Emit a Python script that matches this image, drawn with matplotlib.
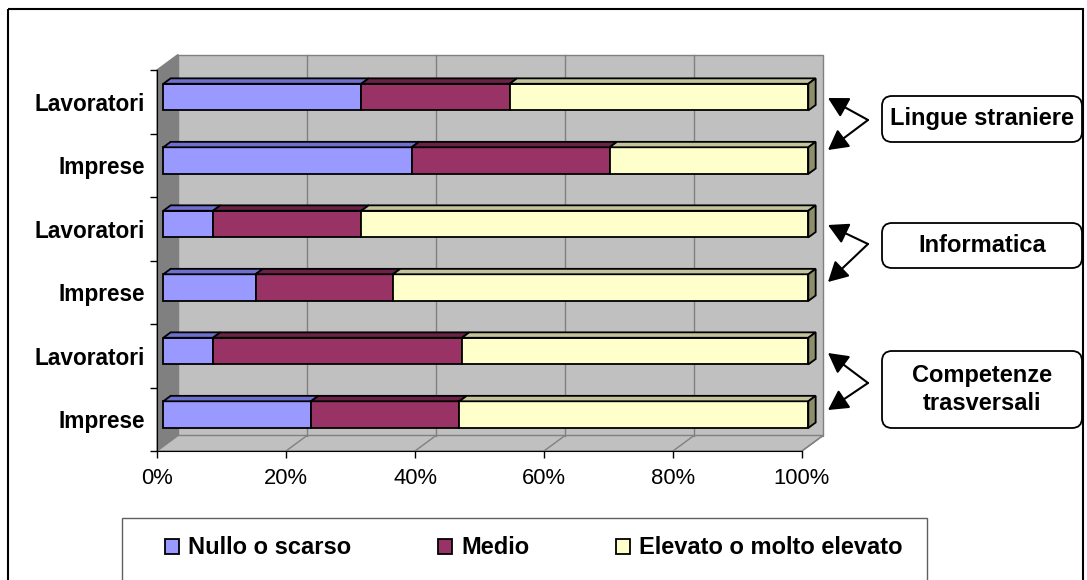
import matplotlib.pyplot as plt
from matplotlib.patches import Polygon, Rectangle, FancyBboxPatch

plt.rcParams['font.family'] = ['Liberation Sans', 'DejaVu Sans']

# categories bottom to top
categories = ['Imprese', 'Lavoratori', 'Imprese', 'Lavoratori', 'Imprese', 'Lavoratori']
series_names = ['Nullo o scarso', 'Medio', 'Elevato o molto elevato']
nullo = [22.9, 7.7, 14.3, 7.7, 38.5, 30.7]
medio = [23.0, 38.6, 21.3, 23.0, 30.7, 23.0]
elevato = [54.1, 53.7, 64.4, 69.3, 30.8, 46.3]
x_ticks = [0, 20, 40, 60, 80, 100]
x_labels = ['0%', '20%', '40%', '60%', '80%', '100%']
groups = ['Lingue straniere', 'Informatica', 'Competenze\ntrasversali']

front_colors = ['#9999FF', '#993366', '#FFFFCC']
top_colors = ['#6F6FCF', '#6A2247', '#C4C49C']
cap_color = '#8E8E6A'

W, H = 1087, 580
fig = plt.figure(figsize=(W / 100, H / 100), dpi=100)
ax = fig.add_axes([157 / W, 1 - 451 / H, 645 / W, 381 / H])
ax.set_xlim(0, 100)
ax.set_ylim(-0.5, 5.5)
ax.patch.set_visible(False)

# 3d depth offsets in data units
DX, DY = 3.26, 0.244
FRONT, DEPTH = 0.3, 0.35
fx, fy = FRONT * DX, FRONT * DY
ddx, ddy = DEPTH * DX, DEPTH * DY
bar_h = 0.42
n = len(categories)
ys = list(range(n))

# walls
ax.add_patch(Polygon([(0, -0.5), (DX, -0.5 + DY), (DX, n - 0.5 + DY), (0, n - 0.5)],
                     fc='#808080', ec='#808080', lw=1, clip_on=False, zorder=0))
ax.add_patch(Polygon([(DX, -0.5 + DY), (100 + DX, -0.5 + DY), (100 + DX, n - 0.5 + DY), (DX, n - 0.5 + DY)],
                     fc='#C0C0C0', ec='#808080', lw=1, clip_on=False, zorder=0))
ax.add_patch(Polygon([(0, -0.5), (100, -0.5), (100 + DX, -0.5 + DY), (DX, -0.5 + DY)],
                     fc='#C0C0C0', ec='#808080', lw=1, clip_on=False, zorder=0))
for t in x_ticks[1:-1]:
    ax.plot([t + DX, t + DX], [-0.5 + DY, n - 0.5 + DY], color='#808080', lw=1, clip_on=False, zorder=0.5)
for t in x_ticks[1:]:
    ax.plot([t, t + DX], [-0.5, -0.5 + DY], color='#808080', lw=1, clip_on=False, zorder=0.5)

# bars
lefts = [0.0] * n
handles = []
for vals, fc, tc, name in zip([nullo, medio, elevato], front_colors, top_colors, series_names):
    bars = ax.barh([y + fy for y in ys], vals, left=[l + fx for l in lefts], height=bar_h,
                   color=fc, edgecolor='black', lw=1.3, zorder=3, label=name, clip_on=False)
    handles.append(bars)
    for y, l, v in zip(ys, lefts, vals):
        top = y + fy + bar_h / 2
        ax.add_patch(Polygon([(l + fx, top), (l + v + fx, top), (l + v + fx + ddx, top + ddy), (l + fx + ddx, top + ddy)],
                             fc=tc, ec='black', lw=1.3, zorder=3, clip_on=False))
    lefts = [l + v for l, v in zip(lefts, vals)]
for y, l in zip(ys, lefts):
    bot, top = y + fy - bar_h / 2, y + fy + bar_h / 2
    ax.add_patch(Polygon([(l + fx, bot), (l + fx + ddx, bot + ddy), (l + fx + ddx, top + ddy), (l + fx, top)],
                         fc=cap_color, ec='black', lw=1.3, zorder=3, clip_on=False))

# axes styling
for s in ['top', 'right']:
    ax.spines[s].set_visible(False)
ax.spines['left'].set_color('black')
ax.spines['bottom'].set_color('black')
ax.set_xticks(x_ticks)
ax.set_xticklabels(x_labels, fontsize=15.8)
ax.set_yticks([y - 0.5 for y in range(n + 1)])
ax.set_yticklabels([])
ax.set_yticks(ys, minor=True)
ax.set_yticklabels(categories, minor=True, fontsize=16.3, fontweight='bold')
ax.tick_params(axis='both', which='major', direction='out', length=5, width=1, color='black')
ax.tick_params(axis='x', pad=7)
ax.tick_params(axis='y', which='minor', length=0, pad=9)

# overlay in pixel coords for frame, legend box and group callouts
ov = fig.add_axes([0, 0, 1, 1])
ov.set_xlim(0, W)
ov.set_ylim(H, 0)
ov.axis('off')
ov.patch.set_visible(False)
ov.add_patch(Rectangle((8, 9), 1075, 620, fc='none', ec='black', lw=1.5))
ov.add_patch(Rectangle((122, 518), 805, 100, fc='white', ec='#606060', lw=1))

boxes = [(96, 142), (223, 268), (351, 428)]
vertices = [120, 244, 383]
heads = [(98, 150), (225, 282), (353, 410)]
for label, (y0, y1), vy, (h0, h1) in zip(groups, boxes, vertices, heads):
    ov.add_patch(FancyBboxPatch((882, y0), 200, y1 - y0, boxstyle='round,pad=0,rounding_size=10',
                                fc='white', ec='black', lw=1.3))
    ov.text(982, (y0 + y1) / 2, label, ha='center', va='center', fontsize=17,
            fontweight='bold', linespacing=1.25)
    for hy in (h0, h1):
        ov.annotate('', xy=(828, hy), xytext=(868, vy),
                    arrowprops=dict(arrowstyle='-|>,head_length=0.55,head_width=0.3',
                                    mutation_scale=22, lw=1.5, color='black', shrinkA=0, shrinkB=0))

fig.legend(handles=handles, labels=series_names, loc='center left',
           bbox_to_anchor=(153 / W, 1 - 548 / H), ncol=3, frameon=False, borderpad=0,
           handlelength=0.6, handleheight=0.6, handletextpad=0.4, columnspacing=3.65,
           prop={'size': 17, 'weight': 'bold'})

fig.savefig('out.png', dpi=100)
